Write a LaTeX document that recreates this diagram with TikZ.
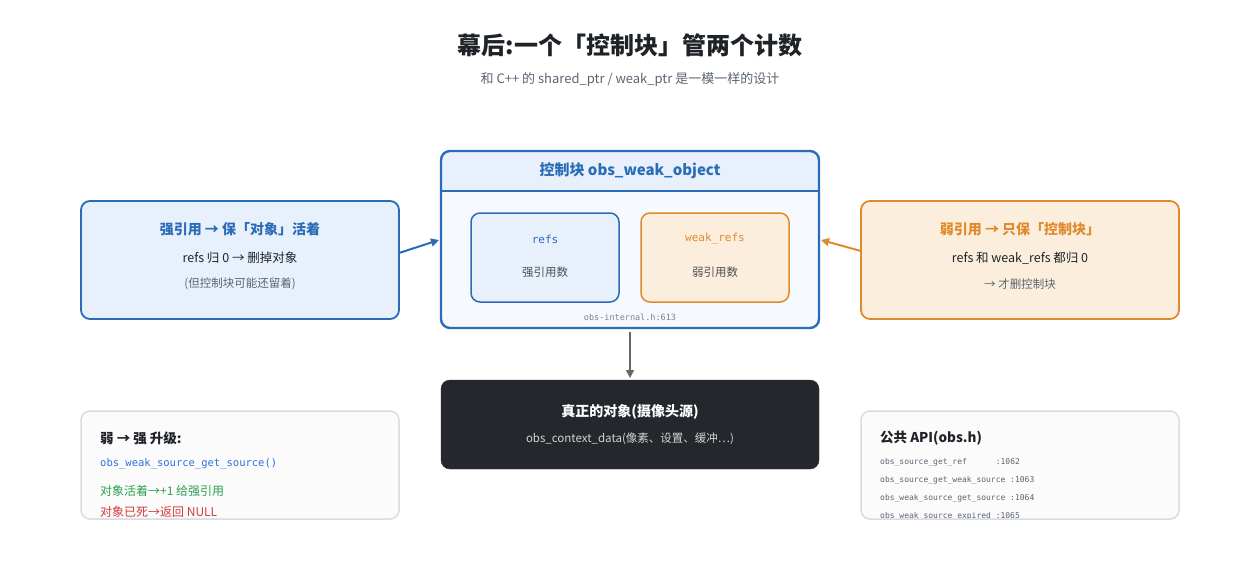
\documentclass[tikz,border=0pt]{standalone}
\usepackage{fontspec}
\setmainfont{Noto Sans CJK SC}
\setmonofont{DejaVu Sans Mono}
\usetikzlibrary{arrows.meta}
\definecolor{bl}{HTML}{2B6CB8}
\definecolor{blf}{HTML}{E8F1FB}
\definecolor{orb}{HTML}{E08A2E}
\definecolor{orf}{HTML}{FCEEDD}
\definecolor{dk}{HTML}{24272C}
\definecolor{gr}{HTML}{D5DCE4}
\definecolor{txt}{HTML}{1F2328}
\definecolor{sub}{HTML}{5A6472}
\definecolor{grn}{HTML}{2E9E4F}
\definecolor{red}{HTML}{D03B3B}
\definecolor{mblue}{HTML}{2F6FE0}
\begin{document}
\begin{tikzpicture}[x=1pt,y=-1pt,
 box/.style={rounded corners=9pt,line width=1.8pt},
 t/.style={font=\fontsize{#1}{#1}\selectfont,inner sep=0},
 arr/.style={line width=2pt,-{Triangle[length=8pt,width=8pt]}}]
\useasboundingbox (0,0) rectangle (1260,560);
\node[t=24,text=txt] (title) at (630,45) {\bfseries 幕后:一个「控制块」管两个计数};
\node[t=13,text=sub] (subt) at (630,79) {和 C++ 的 shared\_ptr / weak\_ptr 是一模一样的设计};
% left strong
\draw[box,draw=bl,fill=blf] (81,201) rectangle (399,319);
\node[t=14,text=bl] (l1) at (240,229) {\bfseries 强引用 → 保「对象」活着};
\node[t=12.5,text=txt] (l2) at (240,258) {refs 归 0 → 删掉对象};
\node[t=11.5,text=sub] (l3) at (240,284) {(但控制块可能还留着)};
\coordinate (lA) at (399,253);
% right weak
\draw[box,draw=orb,fill=orf] (861,201) rectangle (1179,319);
\node[t=14,text=orb] (r1) at (1020,229) {\bfseries 弱引用 → 只保「控制块」};
\node[t=12.5,text=txt] (r2) at (1020,258) {refs 和 weak\_refs 都归 0};
\node[t=11.5,text=sub] (r3) at (1020,284) {→ 才删控制块};
\coordinate (rA) at (861,251);
% control block
\begin{scope}
\clip[rounded corners=9pt] (441,151) rectangle (819,328);
\fill[white!60!blf] (441,151) rectangle (819,328);
\fill[blf] (441,151) rectangle (819,191);
\draw[bl,line width=1.3pt] (441,191) -- (819,191);
\end{scope}
\draw[box,draw=bl,line width=2.4pt] (441,151) rectangle (819,328);
\coordinate (cL) at (439,240);
\coordinate (cR) at (821,240);
\coordinate (cB) at (630,332);
\node[t=15,text=bl] (ch) at (630,171) {\bfseries 控制块 obs\_weak\_object};
\draw[box,line width=1.5pt,draw=bl,fill=blf] (471,213) rectangle (619,302);
\node[t=11,text=bl] (refs) at (545,239) {\ttfamily refs};
\node[t=11.5,text=txt!80] (refs2) at (545,272) {强引用数};
\draw[box,line width=1.5pt,draw=orb,fill=orf] (641,213) rectangle (789,302);
\node[t=11,text=orb] (wr) at (715,239) {\ttfamily weak\_refs};
\node[t=11.5,text=txt!80] (wr2) at (715,272) {弱引用数};
\node[t=8.5,text=sub!80] (loc) at (630,317) {\ttfamily obs-internal.h:613};
% dark
\draw[rounded corners=9pt,fill=dk,draw=dk] (441,380) rectangle (819,469);
\node[t=14,text=white] (d1) at (630,412) {\bfseries 真正的对象(摄像头源)};
\node[t=11.5,text=white!80!dk] (d2) at (630,439) {obs\_context\_data(像素、设置、缓冲…)};
\coordinate (dT) at (630,378);
\draw[arr,draw=gray!80!black,fill=gray!80!black,line width=1.5pt] (cB) -- (dT);
\draw[arr,draw=bl,fill=bl] (lA) -- (cL);
\draw[arr,draw=orb,fill=orb] (rA) -- (cR);
% bottom left
\begin{scope}
\clip[rounded corners=9pt] (81,411) rectangle (399,519);
\fill[white!50!gray!6] (81,411) rectangle (399,519);
\node[t=13.5,text=txt,anchor=west] (bl1) at (100,438) {\bfseries 弱 → 强 升级:};
\node[t=10.5,text=mblue,anchor=west] (bl2) at (100,464) {\ttfamily obs\_weak\_source\_get\_source()};
\node[t=12,text=grn,anchor=west] (bl3) at (100,491) {对象活着→+1 给强引用};
\node[t=12,text=red,anchor=west] (bl4) at (100,512) {对象已死→返回 NULL};
\end{scope}
\draw[rounded corners=9pt,line width=1.5pt,draw=gr] (81,411) rectangle (399,519);
% bottom right
\begin{scope}
\clip[rounded corners=9pt] (861,411) rectangle (1179,519);
\fill[white!50!gray!6] (861,411) rectangle (1179,519);
\node[t=13.5,text=txt,anchor=west] (br1) at (880,438) {\bfseries 公共 API(obs.h)};
\node[t=8,text=sub,anchor=west] (br2) at (880,462) {\ttfamily obs\_source\_get\_ref\ \ \ \ \ \ :1062};
\node[t=8,text=sub,anchor=west] (br3) at (880,480) {\ttfamily obs\_source\_get\_weak\_source :1063};
\node[t=8,text=sub,anchor=west] (br4) at (880,498) {\ttfamily obs\_weak\_source\_get\_source :1064};
\node[t=8,text=sub,anchor=west] (br5) at (880,516) {\ttfamily obs\_weak\_source\_expired :1065};
\end{scope}
\draw[rounded corners=9pt,line width=1.5pt,draw=gr] (861,411) rectangle (1179,519);
\end{tikzpicture}
\end{document}
